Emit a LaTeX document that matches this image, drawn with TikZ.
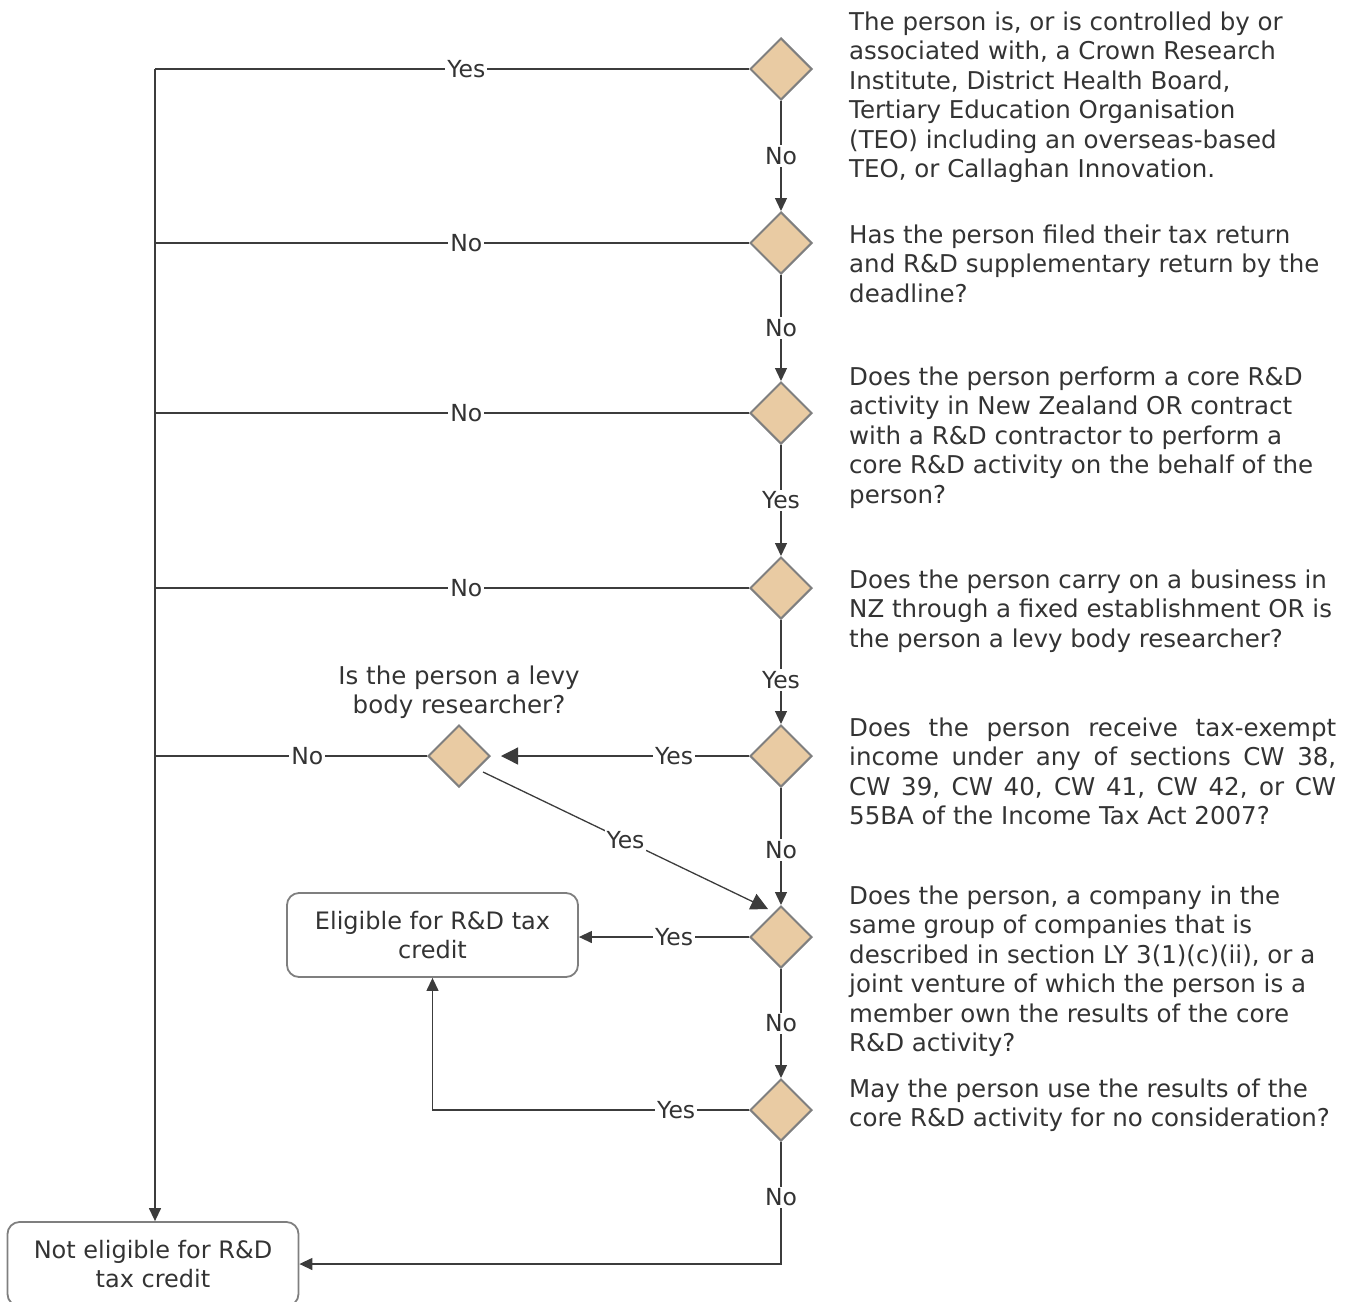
\documentclass[tikz,border=0pt]{standalone}
\usepackage{fontspec}
\setmainfont{DejaVu Sans}
\usetikzlibrary{shapes.geometric,arrows.meta,calc}
\definecolor{txt}{HTML}{333333}
\definecolor{ln}{HTML}{3C3C3C}
\definecolor{dfill}{HTML}{E9CBA3}
\definecolor{dline}{HTML}{7F7F7F}
\begin{document}
\begin{tikzpicture}[x=1pt,y=-1pt,
  dec/.style={diamond, draw=dline, line width=2pt, fill=dfill, minimum width=62pt, minimum height=62pt, inner sep=0pt, aspect=1},
  endbox/.style={draw=dline, line width=1.8pt, rounded corners=12pt, minimum width=291pt, minimum height=84pt, align=center, text=txt, font=\fontsize{24}{29.5}\selectfont},
  lab/.style={fill=white, inner sep=2pt, text=txt, font=\fontsize{23.5}{28}\selectfont},
  conn/.style={draw=ln, line width=1.3pt},
  arr/.style={conn, -{Triangle[length=13pt,width=12pt]}},
  bigarr/.style={conn, -{Triangle[length=17pt,width=17pt]}},
  desc/.style={anchor=base west, inner sep=0pt, text=txt, font=\fontsize{24.5}{29.5}\selectfont}
]
\useasboundingbox (0,0) rectangle (1353,1302);

% decisions
\node[dec] (d1) at (781,69) {};
\node[dec] (d2) at (781,243) {};
\node[dec] (d3) at (781,413) {};
\node[dec] (d4) at (781,588) {};
\node[dec] (d5) at (781,756) {};
\node[dec] (d6) at (781,937) {};
\node[dec] (d7) at (781,1110) {};
\node[dec] (dl) at (459,756) {};

% terminal boxes
\node[endbox] (el) at (432.5,935) {Eligible for R\&D tax\\credit};
\node[endbox] (ne) at (153,1264) {Not eligible for R\&D\\tax credit};

% spine coordinates
\coordinate (s1) at (155,69);
\coordinate (s2) at (155,243);
\coordinate (s3) at (155,413);
\coordinate (s4) at (155,588);
\coordinate (s5) at (155,756);

% left branches
\draw[conn] (d1.west) -- node[lab,pos=0.476]{Yes} (s1);
\draw[conn] (d2.west) -- node[lab,pos=0.476]{No} (s2);
\draw[conn] (d3.west) -- node[lab,pos=0.476]{No} (s3);
\draw[conn] (d4.west) -- node[lab,pos=0.476]{No} (s4);
\draw[conn] (dl.west) -- node[lab,pos=0.44]{No} (s5);
\draw[arr] (s1) -- (s1 |- ne.north);

% main column
\draw[arr] (d1.south) -- node[lab]{No} (d2.north);
\draw[arr] (d2.south) -- node[lab]{No} (d3.north);
\draw[arr] (d3.south) -- node[lab]{Yes} (d4.north);
\draw[arr] (d4.south) -- node[lab,pos=0.575]{Yes} (d5.north);
\draw[arr] (d5.south) -- node[lab,pos=0.53]{No} (d6.north);
\draw[arr] (d6.south) -- node[lab]{No} (d7.north);
\draw[arr] (d7.south) -- node[lab,pos=0.455]{No} (d7.south |- ne.east) -- (ne.east);

% levy branch
\draw[bigarr, shorten >=10pt] (d5.west) -- node[lab,pos=0.29]{Yes} (dl.east);
\draw[bigarr] ($(dl.south east)+(8,0)$) -- node[lab]{Yes} ($(d6.north west)+(3,-12)$);

% eligible
\draw[arr] (d6.west) -- node[lab,pos=0.44]{Yes} (d6.west -| el.east);
\draw[arr] (d7.west) -- node[lab,pos=0.23]{Yes} (d7.west -| el.south) -- (el.south);

% texts
\node[desc, anchor=base] (q0) at (459,684) {\parbox[t]{320pt}{\centering Is the person a levy\\body researcher?}};
\node[desc] (t1) at (849,30) {\parbox[t]{500pt}{The person is, or is controlled by or\\associated with, a Crown Research\\Institute, District Health Board,\\Tertiary Education Organisation\\(TEO) including an overseas-based\\TEO, or Callaghan Innovation.}};
\node[desc] (t2) at (849,243) {\parbox[t]{500pt}{Has the person filed their tax return\\and R\&D supplementary return by the\\deadline?}};
\node[desc] (t3) at (849,385) {\parbox[t]{500pt}{Does the person perform a core R\&D\\activity in New Zealand OR contract\\with a R\&D contractor to perform a\\core R\&D activity on the behalf of the\\person?}};
\node[desc] (t4) at (849,588) {\parbox[t]{500pt}{Does the person carry on a business in\\NZ through a fixed establishment OR is\\the person a levy body researcher?}};
\node[desc] (t5) at (849,736) {\parbox[t]{500pt}{\makebox[487pt][s]{Does the person receive tax-exempt}\\\makebox[487pt][s]{income under any of sections CW 38,}\\\makebox[487pt][s]{CW 39, CW 40, CW 41, CW 42, or CW}\\55BA of the Income Tax Act 2007?}};
\node[desc] (t6) at (849,904) {\parbox[t]{500pt}{Does the person, a company in the\\same group of companies that is\\described in section LY 3(1)(c)(ii), or a\\joint venture of which the person is a\\member own the results of the core\\R\&D activity?}};
\node[desc] (t7) at (849,1097) {\parbox[t]{500pt}{May the person use the results of the\\core R\&D activity for no consideration?}};
\end{tikzpicture}
\end{document}
